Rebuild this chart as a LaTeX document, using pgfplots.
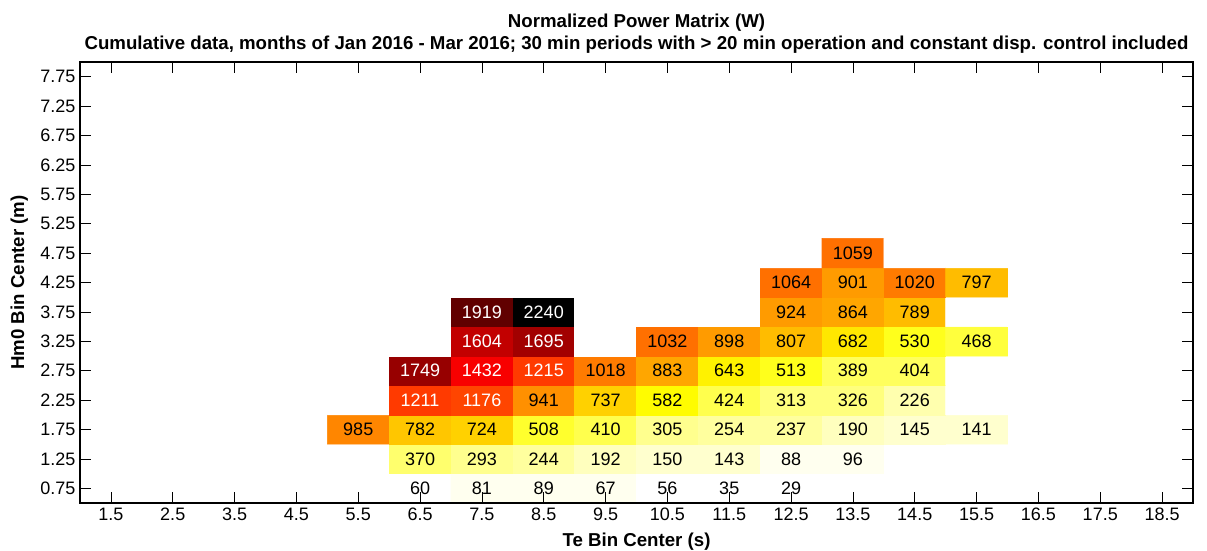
\documentclass[border=0pt]{standalone}
\usepackage{fontspec}
\setmainfont{Liberation Sans}
\usepackage{pgfplots}
\pgfplotsset{compat=1.18}
\pgfplotsset{colormap={revhot}{rgb(0pt)=(1,1,1); rgb(16pt)=(1,1,0); rgb(40pt)=(1,0,0); rgb(64pt)=(0,0,0)}}
\pgfplotsset{colormap={revhotd}{samples of colormap=(64 of revhot)}}
\begin{document}
\begin{tikzpicture}
\useasboundingbox (-60pt,-35.25pt) rectangle (845.25pt,377.25pt);
\begin{axis}[
  at={(0,0)}, anchor=south west,
  scale only axis, width=834.75pt, height=330.75pt,
  xmin=1, xmax=19, ymin=0.5, ymax=8,
  xtick={1.5,2.5,3.5,4.5,5.5,6.5,7.5,8.5,9.5,10.5,11.5,12.5,13.5,14.5,15.5,16.5,17.5,18.5},
  ytick={0.75,1.25,1.75,2.25,2.75,3.25,3.75,4.25,4.75,5.25,5.75,6.25,6.75,7.25,7.75},
  /pgf/number format/assume math mode=true,
  /pgf/number format/fixed,
  /pgf/number format/precision=2,
  tick label style={font=\fontsize{13.5}{16}\selectfont},
  major tick length=8pt,
  tick style={line width=0.6pt, black},
  axis line style={line width=1.2pt},
  axis on top,
  colormap name=revhotd,
  colormap access=piecewise constant,
  point meta min=29, point meta max=2240,
  title={Normalized Power Matrix (W)\\Cumulative data, months of Jan 2016 - Mar 2016; 30 min periods with > 20 min operation and constant disp. control included},
  title style={font=\bfseries\fontsize{14}{16.3}\selectfont, align=center, at={(axis description cs:0.5,1)}, anchor=south, yshift=-3pt},
  xlabel={Te Bin Center (s)},
  xlabel style={font=\bfseries\fontsize{14}{16}\selectfont, at={(axis description cs:0.5,-0.099)}, anchor=base},
  ylabel={Hm0 Bin Center (m)},
  ylabel style={font=\bfseries\fontsize{14}{16}\selectfont, at={(axis description cs:-0.0545,0.5)}, anchor=center},
]
\addplot[matrix plot*, mesh/cols=11, mesh/rows=9, point meta=explicit] table[meta=c] {
x y c
5.5 0.75 29
6.5 0.75 60
7.5 0.75 81
8.5 0.75 89
9.5 0.75 67
10.5 0.75 56
11.5 0.75 35
12.5 0.75 29
13.5 0.75 29
14.5 0.75 29
15.5 0.75 29
5.5 1.25 29
6.5 1.25 370
7.5 1.25 293
8.5 1.25 244
9.5 1.25 192
10.5 1.25 150
11.5 1.25 143
12.5 1.25 88
13.5 1.25 96
14.5 1.25 29
15.5 1.25 29
5.5 1.75 985
6.5 1.75 782
7.5 1.75 724
8.5 1.75 508
9.5 1.75 410
10.5 1.75 305
11.5 1.75 254
12.5 1.75 237
13.5 1.75 190
14.5 1.75 145
15.5 1.75 141
5.5 2.25 29
6.5 2.25 1211
7.5 2.25 1176
8.5 2.25 941
9.5 2.25 737
10.5 2.25 582
11.5 2.25 424
12.5 2.25 313
13.5 2.25 326
14.5 2.25 226
15.5 2.25 29
5.5 2.75 29
6.5 2.75 1749
7.5 2.75 1432
8.5 2.75 1215
9.5 2.75 1018
10.5 2.75 883
11.5 2.75 643
12.5 2.75 513
13.5 2.75 389
14.5 2.75 404
15.5 2.75 29
5.5 3.25 29
6.5 3.25 29
7.5 3.25 1604
8.5 3.25 1695
9.5 3.25 29
10.5 3.25 1032
11.5 3.25 898
12.5 3.25 807
13.5 3.25 682
14.5 3.25 530
15.5 3.25 468
5.5 3.75 29
6.5 3.75 29
7.5 3.75 1919
8.5 3.75 2240
9.5 3.75 29
10.5 3.75 29
11.5 3.75 29
12.5 3.75 924
13.5 3.75 864
14.5 3.75 789
15.5 3.75 29
5.5 4.25 29
6.5 4.25 29
7.5 4.25 29
8.5 4.25 29
9.5 4.25 29
10.5 4.25 29
11.5 4.25 29
12.5 4.25 1064
13.5 4.25 901
14.5 4.25 1020
15.5 4.25 797
5.5 4.75 29
6.5 4.75 29
7.5 4.75 29
8.5 4.75 29
9.5 4.75 29
10.5 4.75 29
11.5 4.75 29
12.5 4.75 29
13.5 4.75 1059
14.5 4.75 29
15.5 4.75 29
};
\addplot[draw=none, mark=none, nodes near coords, point meta=explicit symbolic,
  nodes near coords style={anchor=center, font=\fontsize{13.5}{16}\selectfont, text=black}] table[meta=v] {
x y v
6.5 0.75 60
7.5 0.75 81
8.5 0.75 89
9.5 0.75 67
10.5 0.75 56
11.5 0.75 35
12.5 0.75 29
6.5 1.25 370
7.5 1.25 293
8.5 1.25 244
9.5 1.25 192
10.5 1.25 150
11.5 1.25 143
12.5 1.25 88
13.5 1.25 96
5.5 1.75 985
6.5 1.75 782
7.5 1.75 724
8.5 1.75 508
9.5 1.75 410
10.5 1.75 305
11.5 1.75 254
12.5 1.75 237
13.5 1.75 190
14.5 1.75 145
15.5 1.75 141
8.5 2.25 941
9.5 2.25 737
10.5 2.25 582
11.5 2.25 424
12.5 2.25 313
13.5 2.25 326
14.5 2.25 226
9.5 2.75 1018
10.5 2.75 883
11.5 2.75 643
12.5 2.75 513
13.5 2.75 389
14.5 2.75 404
10.5 3.25 1032
11.5 3.25 898
12.5 3.25 807
13.5 3.25 682
14.5 3.25 530
15.5 3.25 468
12.5 3.75 924
13.5 3.75 864
14.5 3.75 789
12.5 4.25 1064
13.5 4.25 901
14.5 4.25 1020
15.5 4.25 797
13.5 4.75 1059
};
\addplot[draw=none, mark=none, nodes near coords, point meta=explicit symbolic,
  nodes near coords style={anchor=center, font=\fontsize{13.5}{16}\selectfont, text=white}] table[meta=v] {
x y v
6.5 2.25 1211
7.5 2.25 1176
6.5 2.75 1749
7.5 2.75 1432
8.5 2.75 1215
7.5 3.25 1604
8.5 3.25 1695
7.5 3.75 1919
8.5 3.75 2240
};
\end{axis}
\end{tikzpicture}
\end{document}
